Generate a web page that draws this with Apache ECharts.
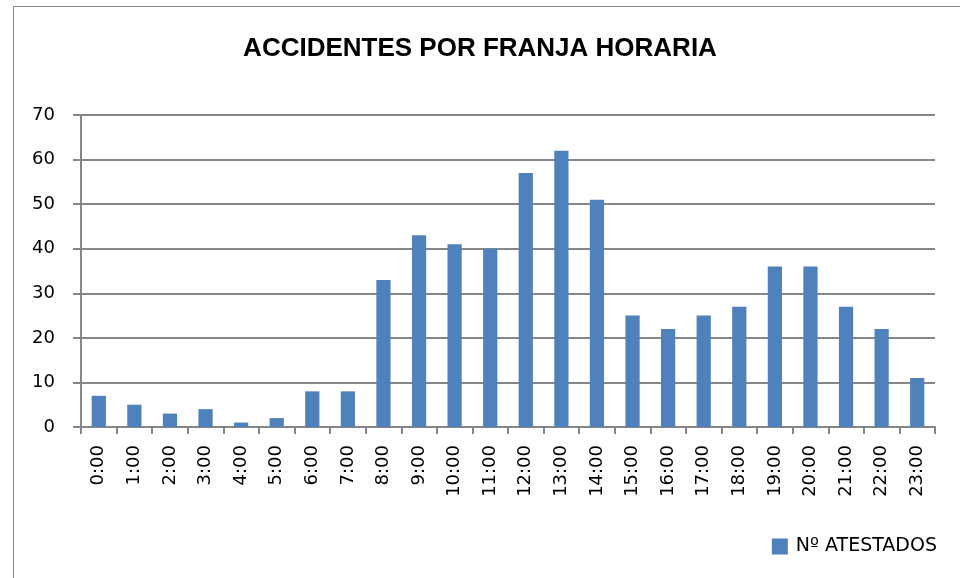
<!DOCTYPE html>
<html>
<head>
<meta charset="utf-8">
<script src="https://cdn.jsdelivr.net/npm/echarts@6/dist/echarts.min.js"></script>
<style>
	html, body { margin: 0; padding: 0; background: #fff; }
	#chart { width: 960px; height: 578px; }
</style>
</head>
<body>
<div id="chart"></div>
<script>
// horas del día
const horas = ['0:00', '1:00', '2:00', '3:00', '4:00', '5:00', '6:00', '7:00', '8:00', '9:00', '10:00', '11:00',
	'12:00', '13:00', '14:00', '15:00', '16:00', '17:00', '18:00', '19:00', '20:00', '21:00', '22:00', '23:00'];
const atestados = [7, 5, 3, 4, 1, 2, 8, 8, 33, 43, 41, 40, 57, 62, 51, 25, 22, 25, 27, 36, 36, 27, 22, 11];
const serieNombre = 'Nº ATESTADOS';
const titulo = 'ACCIDENTES POR FRANJA HORARIA';

const chart = echarts.init(document.getElementById('chart'));

const fuente = 'DejaVu Sans';
const gris = '#868686';

chart.setOption({
	animation: false,
	textStyle: { fontFamily: fuente },
	graphic: [{
		type: 'rect',
		shape: { x: 13.5, y: 6.5, width: 1000, height: 700 },
		style: { fill: 'none', stroke: gris, lineWidth: 1 },
		silent: true
	}],
	title: {
		text: titulo,
		left: 'center',
		top: 31,
		textStyle: { fontSize: 26, fontWeight: 'bold', color: '#000', fontFamily: 'Liberation Sans' }
	},
	legend: {
		right: 18,
		top: 532,
		itemWidth: 16,
		itemHeight: 16,
		itemGap: 8,
		textStyle: { fontSize: 19, color: '#000', padding: [0, 0, 0, 3] },
		data: [{ name: serieNombre, icon: 'rect' }]
	},
	grid: { left: 81, right: 25, top: 115, bottom: 151 },
	xAxis: {
		type: 'category',
		data: horas,
		axisLine: { lineStyle: { color: gris, width: 2 } },
		axisTick: { show: true, length: 7, alignWithLabel: false, lineStyle: { color: gris, width: 2 } },
		axisLabel: { rotate: 90, fontSize: 18, color: '#000', margin: 18, interval: 0 }
	},
	yAxis: {
		type: 'value',
		min: 0,
		max: 70,
		interval: 10,
		axisLine: { show: true, lineStyle: { color: gris, width: 2 } },
		axisTick: { show: true, length: 8, lineStyle: { color: gris, width: 2 } },
		splitLine: { lineStyle: { color: gris, width: 2 } },
		axisLabel: { fontSize: 18, color: '#000', margin: 26 }
	},
	series: [{
		name: serieNombre,
		type: 'bar',
		data: atestados,
		barWidth: '40%',
		itemStyle: { color: '#4F81BD' }
	}]
});
</script>
</body>
</html>
